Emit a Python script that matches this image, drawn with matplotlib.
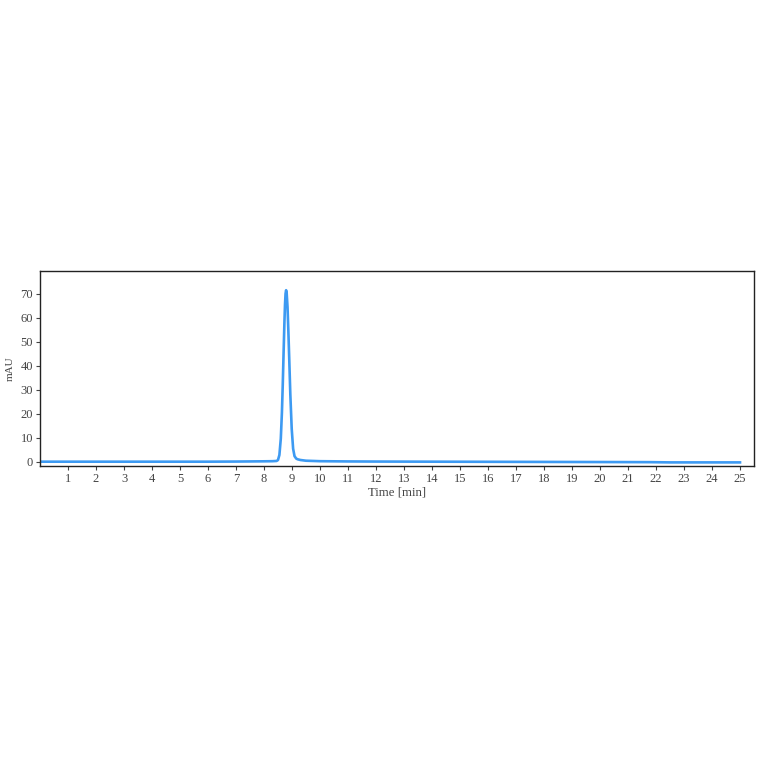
import numpy as np
import matplotlib
matplotlib.use("Agg")
import matplotlib.pyplot as plt

# chromatogram trace (time in min, signal in mAU)
time_min = [0.0, 1.0, 2.0, 3.0, 4.0, 5.0, 6.0, 7.0, 7.5, 8.0, 8.3, 8.45, 8.5,
            8.55, 8.6, 8.64, 8.67, 8.7, 8.73, 8.75, 8.77, 8.79, 8.81, 8.84,
            8.87, 8.9, 8.94, 8.99, 9.04, 9.09, 9.15, 9.2, 9.3, 9.5, 10.0,
            11.0, 12.0, 14.0, 16.0, 18.0, 20.0, 21.8, 22.5, 24.0, 25.0]
signal_mau = [0.1, 0.1, 0.1, 0.1, 0.1, 0.1, 0.1, 0.15, 0.2, 0.25, 0.3, 0.4, 0.8,
              2.9, 9.7, 20.6, 32.2, 45.6, 58.4, 65.5, 70.1, 71.5, 70.3, 64.5,
              54.5, 43.4, 28.2, 13.7, 5.5, 2.4, 1.4, 1.1, 0.8, 0.5, 0.3,
              0.2, 0.15, 0.1, 0.05, 0.0, -0.05, -0.1, -0.2, -0.2, -0.2]

x_ticks = list(range(1, 26))
y_ticks = [0, 10, 20, 30, 40, 50, 60, 70]

plt.rcParams['font.family'] = ['Liberation Serif', 'DejaVu Serif']

fig = plt.figure(figsize=(7.64, 7.64), dpi=100)
ax = fig.add_axes([40 / 764, 1 - 466 / 764, 714 / 764, 195 / 764])

ax.plot(time_min, signal_mau, color='#3d9af2', lw=1.9, solid_joinstyle='round')

ax.set_xlim(0, 25.5)
ax.set_ylim(-1.7, 79.5)
ax.set_xticks(x_ticks)
ax.set_yticks(y_ticks)
ax.tick_params(direction='out', length=3, width=0.8, labelsize=9, colors='#444444', pad=2)
for side in ax.spines.values():
    side.set_linewidth(1.0)
    side.set_color('#222222')

ax.set_xlabel('Time [min]', fontsize=9.2, color='#444444', labelpad=1)
ax.set_ylabel('mAU', fontsize=8, color='#444444', labelpad=4)

fig.savefig('out.png', dpi=100)
